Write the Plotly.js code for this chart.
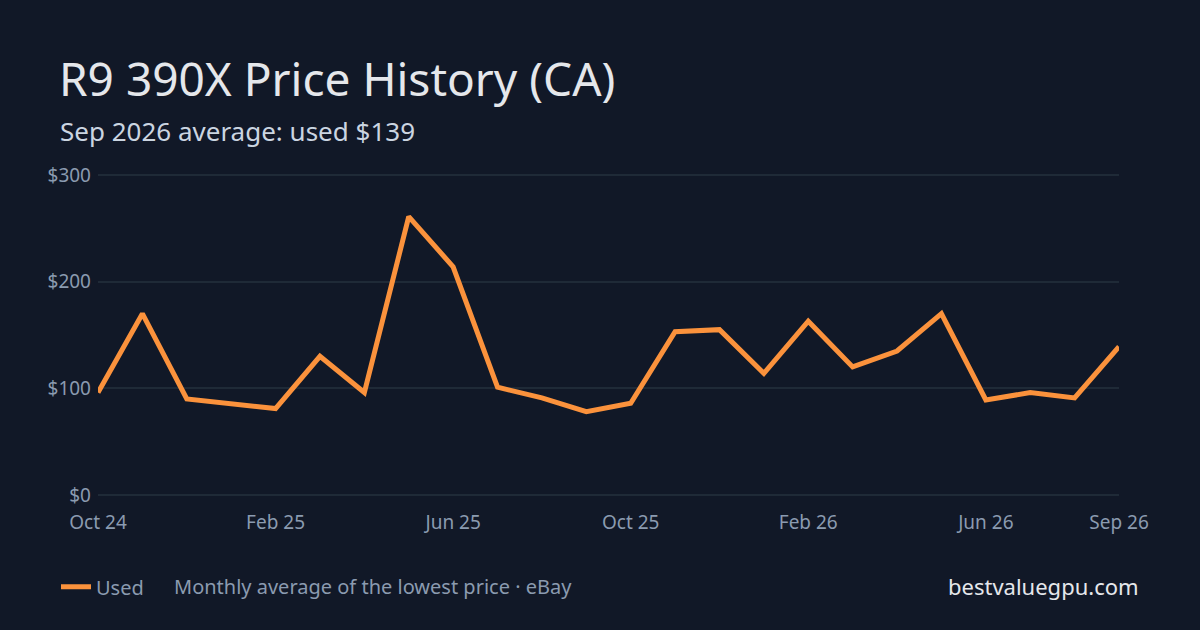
<!DOCTYPE html>
<html>
<head>
<meta charset="utf-8">
<script src="https://cdn.plot.ly/plotly-3.0.1.min.js"></script>
<style>
  html, body { margin: 0; padding: 0; background: #111827; }
  #chart { width: 1200px; height: 630px; }
</style>
</head>
<body>
<div id="chart"></div>
<script>
    // --- DATA ---
    const months = [
        'Oct 24', 'Nov 24', 'Dec 24', 'Jan 25', 'Feb 25', 'Mar 25', 'Apr 25', 'May 25',
        'Jun 25', 'Jul 25', 'Aug 25', 'Sep 25', 'Oct 25', 'Nov 25', 'Dec 25', 'Jan 26',
        'Feb 26', 'Mar 26', 'Apr 26', 'May 26', 'Jun 26', 'Jul 26', 'Aug 26', 'Sep 26'
    ];
    const usedPrice = [
        96, 170, 90, 86, 81, 130, 96, 261,
        214, 101, 91, 78, 86, 153, 155, 114,
        163, 120, 135, 170, 89, 96, 91, 139
    ];
    const xTickLabels = ['Oct 24', 'Feb 25', 'Jun 25', 'Oct 25', 'Feb 26', 'Jun 26', 'Sep 26'];
    const yTickVals = [0, 100, 200, 300];
    const yTickLabels = ['$0', '$100', '$200', '$300'];

    // --- PALETTE ---
    const colors = {
        bg: '#111827',
        line: '#fb923c',
        title: '#e5e7eb',
        sub: '#cbd5e1',
        tick: '#8b9bb0',
        grid: '#1f2a37',
        note: '#8b9bb0'
    };

    // plot area in pixels: x 98..1119, $0 at y 495, $300 at y 175
    const L = 98, R = 1119, T = 175, B = 495;
    const pad = 2;                       // small $ pad so edge gridlines get drawn
    const k = (B - T) / 300;             // px per dollar
    const px = x => (x - L) / (R - L);
    const py = y => (B + pad * k - y) / (B - T + 2 * pad * k);

    const font = 'Noto Sans, Open Sans, sans-serif';

    const trace = {
        type: 'scatter',
        mode: 'lines',
        name: 'Used',
        x: months,
        y: usedPrice,
        line: { color: colors.line, width: 5, shape: 'linear' },
        hoverinfo: 'skip'
    };

    const layout = {
        width: 1200,
        height: 630,
        paper_bgcolor: colors.bg,
        plot_bgcolor: colors.bg,
        font: { family: font, color: colors.tick },
        margin: { l: L, r: 1200 - R, t: T - pad * k, b: 630 - B - pad * k, pad: 0 },
        showlegend: true,
        legend: {
            orientation: 'h',
            x: px(56), xanchor: 'left',
            y: py(587), yanchor: 'middle',
            font: { size: 20, color: colors.tick, family: font },
            bgcolor: 'rgba(0,0,0,0)',
            itemwidth: 30
        },
        xaxis: {
            type: 'category',
            range: [0, months.length - 1],
            tickmode: 'array',
            tickvals: xTickLabels,
            ticktext: xTickLabels,
            showgrid: false,
            zeroline: false,
            showline: false,
            ticks: '',
            tickfont: { size: 19, color: colors.tick, family: font },
            ticklabelstandoff: 12,
            fixedrange: true
        },
        yaxis: {
            range: [-pad, 300 + pad],
            tickmode: 'array',
            tickvals: yTickVals,
            ticktext: yTickLabels,
            showgrid: true,
            gridcolor: colors.grid,
            gridwidth: 2,
            zeroline: false,
            showline: false,
            ticks: '',
            tickfont: { size: 19, color: colors.tick, family: font },
            ticklabelstandoff: 6,
            fixedrange: true
        },
        annotations: [
            {
                text: 'R9 390X Price History (CA)',
                xref: 'paper', yref: 'paper',
                x: px(57), y: py(78), xanchor: 'left', yanchor: 'middle',
                showarrow: false,
                font: { size: 46, color: colors.title, family: font }
            },
            {
                text: 'Sep 2026 average: used $139',
                xref: 'paper', yref: 'paper',
                x: px(58), y: py(131), xanchor: 'left', yanchor: 'middle',
                showarrow: false,
                font: { size: 26, color: colors.sub, family: font }
            },
            {
                text: 'Monthly average of the lowest price · eBay',
                xref: 'paper', yref: 'paper',
                x: px(172), y: py(587), xanchor: 'left', yanchor: 'middle',
                showarrow: false,
                font: { size: 20, color: colors.note, family: font }
            },
            {
                text: 'bestvaluegpu.com',
                xref: 'paper', yref: 'paper',
                x: px(1141), y: py(586), xanchor: 'right', yanchor: 'middle',
                showarrow: false,
                font: { size: 22, color: colors.title, family: font }
            }
        ]
    };

    Plotly.newPlot('chart', [trace], layout, { displayModeBar: false, staticPlot: true });
</script>
</body>
</html>
